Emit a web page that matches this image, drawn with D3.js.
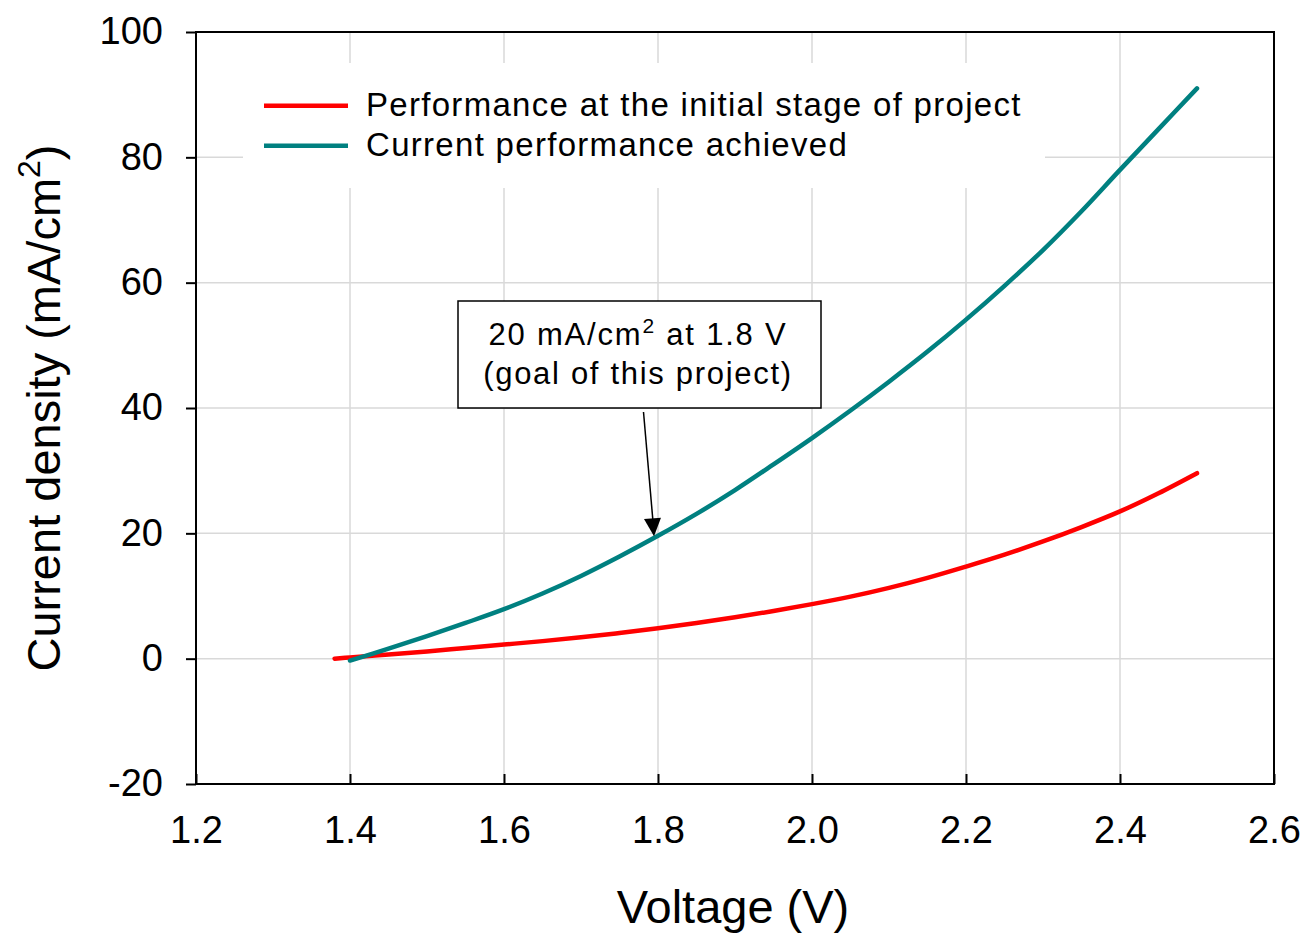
<!DOCTYPE html>
<html>
<head>
<meta charset="utf-8">
<script src="https://cdn.jsdelivr.net/npm/d3@7"></script>
<style>
body{margin:0;background:#fff;}
svg{display:block;font-family:"Liberation Sans",Arial,sans-serif;}
</style>
</head>
<body>
<svg id="chart" width="1305" height="933"></svg>
<script>
// Data
const voltage = [1.38,1.40,1.45,1.50,1.55,1.60,1.65,1.70,1.75,1.80,1.85,1.90,1.95,2.00,2.05,2.10,2.15,2.20,2.25,2.30,2.35,2.40,2.45,2.50];
const initialPerf = [0.0,0.2,0.65,1.15,1.7,2.25,2.8,3.4,4.1,4.85,5.7,6.6,7.6,8.7,9.9,11.3,12.9,14.7,16.6,18.7,21.0,23.5,26.4,29.6];
const voltageCur = [1.40,1.45,1.50,1.55,1.60,1.65,1.70,1.75,1.80,1.85,1.90,1.95,2.00,2.05,2.10,2.15,2.20,2.25,2.30,2.35,2.40,2.45,2.50];
const currentPerf = [-0.3,1.6,3.6,5.7,7.9,10.4,13.2,16.3,19.6,23.1,26.9,31.0,35.2,39.6,44.2,49.0,54.1,59.5,65.2,71.4,78.0,84.5,91.0];
const xTicks = [1.2,1.4,1.6,1.8,2.0,2.2,2.4,2.6];
const yTicks = [-20,0,20,40,60,80,100];
const seriesNames = ["Performance at the initial stage of project","Current performance achieved"];
const seriesColors = ["#ff0000","#008080"];
const xTitle = "Voltage (V)";
const annotationX = 1.8, annotationY = 20;

const svg = d3.select("#chart");
const L=196, R=1274, T=32, B=784;
const x = d3.scaleLinear().domain([1.2,2.6]).range([L,R]);
const y = d3.scaleLinear().domain([-20,100]).range([B,T]);

// gridlines
const grid = svg.append("g").attr("stroke","#d9d9d9").attr("stroke-width",1.5);
grid.selectAll(".gx").data(xTicks.slice(1,-1)).join("line")
  .attr("x1",d=>x(d)).attr("x2",d=>x(d)).attr("y1",T).attr("y2",B);
grid.selectAll(".gy").data(yTicks.slice(1,-1)).join("line")
  .attr("y1",d=>y(d)).attr("y2",d=>y(d)).attr("x1",L).attr("x2",R);

// legend background (covers grid)
svg.append("rect").attr("x",243).attr("y",63).attr("width",802).attr("height",125).attr("fill","#fff");

// lines
const line = d3.line().x(d=>x(d[0])).y(d=>y(d[1])).curve(d3.curveCatmullRom.alpha(0.5));
const s1 = voltage.map((v,i)=>[v,initialPerf[i]]);
const s2 = voltageCur.map((v,i)=>[v,currentPerf[i]]);
svg.append("path").datum(s1).attr("d",line).attr("fill","none").attr("stroke",seriesColors[0]).attr("stroke-width",4.5).attr("stroke-linecap","round");
svg.append("path").datum(s2).attr("d",line).attr("fill","none").attr("stroke",seriesColors[1]).attr("stroke-width",4.5).attr("stroke-linecap","round");

// axes box
const ax = svg.append("g").attr("stroke","#000").attr("stroke-width",2);
ax.append("rect").attr("x",L).attr("y",T).attr("width",R-L).attr("height",B-T).attr("fill","none");

// y axis ticks & labels
const yAxis = d3.axisLeft(y).tickValues(yTicks).tickSize(10).tickFormat(d=>String(d));
const gy = svg.append("g").attr("transform",`translate(${L},0)`).call(yAxis);
gy.select(".domain").remove();
gy.selectAll(".tick line").attr("stroke","#000").attr("stroke-width",2);
gy.selectAll(".tick text").attr("font-size",38).attr("font-family","Liberation Sans, Arial, sans-serif")
  .attr("fill","#000").attr("x",-33).attr("dy","0.31em");

// x axis ticks & labels
const xAxis = d3.axisBottom(x).tickValues(xTicks).tickSize(-10).tickFormat(d=>d.toFixed(1));
const gx = svg.append("g").attr("transform",`translate(0,${B})`).call(xAxis);
gx.select(".domain").remove();
gx.selectAll(".tick line").attr("stroke","#000").attr("stroke-width",2);
gx.selectAll(".tick text").attr("font-size",38).attr("font-family","Liberation Sans, Arial, sans-serif")
  .attr("fill","#000").attr("y",59).attr("dy",0);

// axis titles
svg.append("text").attr("x",(L+R)/2-2).attr("y",923).attr("text-anchor","middle")
  .attr("font-size",47).attr("fill","#000").text(xTitle);
const yt = svg.append("text").attr("transform","translate(60,408) rotate(-90)")
  .attr("text-anchor","middle").attr("font-size",47).attr("fill","#000");
yt.append("tspan").text("Current density (mA/cm");
yt.append("tspan").attr("font-size",32).attr("dy",-20).text("2");
yt.append("tspan").attr("dy",20).text(")");

// legend
const lg = svg.append("g");
[105.7,145.7].forEach((ly,i)=>{
  lg.append("line").attr("x1",264).attr("x2",348).attr("y1",ly).attr("y2",ly)
    .attr("stroke",seriesColors[i]).attr("stroke-width",4.5);
  lg.append("text").attr("x",366).attr("y",ly+10.5).attr("font-size",33).attr("letter-spacing",1.3)
    .attr("fill","#000").text(seriesNames[i]);
});

// annotation
const ab = svg.append("g");
ab.append("rect").attr("x",458).attr("y",301).attr("width",363).attr("height",107)
  .attr("fill","#fff").attr("stroke","#000").attr("stroke-width",1.5);
const t1 = ab.append("text").attr("x",638).attr("y",345).attr("text-anchor","middle")
  .attr("font-size",31).attr("letter-spacing",1.8).attr("fill","#000");
t1.append("tspan").text("20 mA/cm");
t1.append("tspan").attr("font-size",21).attr("dy",-12).text("2");
t1.append("tspan").attr("dy",12).text(" at 1.8 V");
ab.append("text").attr("x",638).attr("y",384).attr("text-anchor","middle")
  .attr("font-size",31).attr("letter-spacing",1.7).attr("fill","#000").text("(goal of this project)");

// arrow
const tipX = x(annotationX)-4, tipY = y(annotationY)+3;
const sx = 643.5, sy = 412;
svg.append("line").attr("x1",sx).attr("y1",sy).attr("x2",tipX-1.2).attr("y2",tipY-17)
  .attr("stroke","#000").attr("stroke-width",1.5);
const ang = Math.atan2(tipY-sy, tipX-sx);
const hl=18, hw=8.5;
const bx = tipX-hl*Math.cos(ang), by = tipY-hl*Math.sin(ang);
const px = -Math.sin(ang)*hw, py = Math.cos(ang)*hw;
svg.append("path").attr("d",`M${tipX},${tipY}L${bx+px},${by+py}L${bx-px},${by-py}Z`).attr("fill","#000");
</script>
</body>
</html>
